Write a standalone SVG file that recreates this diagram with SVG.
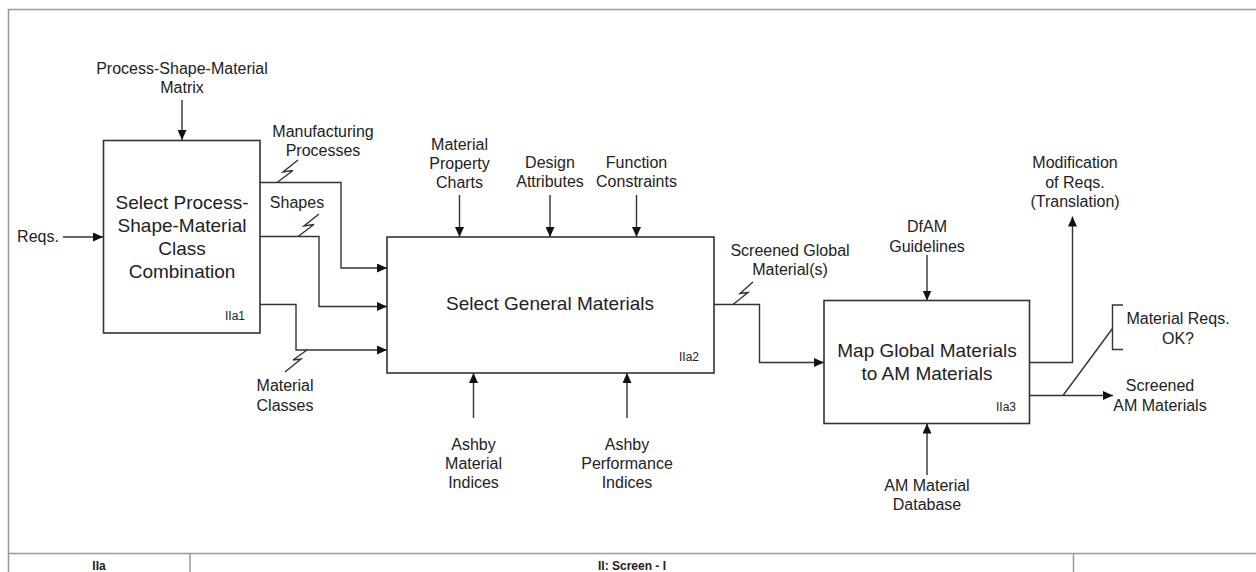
<svg xmlns="http://www.w3.org/2000/svg" width="1256" height="572" viewBox="0 0 1256 572">
<style>
  .frame{fill:none;stroke:#999;stroke-width:1.5}
  .box{fill:#fff;stroke:#333;stroke-width:1.6}
  .ln{fill:none;stroke:#333;stroke-width:1.4}
  .arr{marker-end:url(#ah)}
  .lbl{font-family:"Liberation Sans",Arial,sans-serif;font-size:16px;fill:#222;text-anchor:middle}
  .ttl{font-family:"Liberation Sans",Arial,sans-serif;font-size:19px;fill:#222;text-anchor:middle}
  .id{font-family:"Liberation Sans",Arial,sans-serif;font-size:12px;fill:#222;text-anchor:middle}
  .ft{font-family:"Liberation Sans",Arial,sans-serif;font-size:12px;font-weight:bold;fill:#222;text-anchor:middle}
</style>
<defs>
  <marker id="ah" markerUnits="userSpaceOnUse" markerWidth="10" markerHeight="9" refX="10" refY="4.5" orient="auto">
    <path d="M0,0 L10,4.5 L0,9 Z" fill="#111"/>
  </marker>
</defs>
<rect width="1256" height="572" fill="#fff"/>
<g id="frame">
  <path class="frame" d="M1256,9.5 H8.5 V572"/>
  <path class="frame" d="M8.5,553.5 H1256 M190,553.5 V572 M1073.5,553.5 V572"/>
  <text class="ft" x="99" y="570">IIa</text>
  <text class="ft" x="632" y="570">II: Screen - I</text>
</g>
<g id="connectors">
  <!-- inputs to box 1 -->
  <path class="ln arr" d="M182,100 V140"/>
  <path class="ln arr" d="M63,237 H103"/>
  <!-- box1 to box2 -->
  <path class="ln arr" d="M260,182.5 H341 V268 H387"/>
  <path class="ln" d="M277,182.5 L293,170.5 L283,172 L298,160"/>
  <path class="ln arr" d="M260,236.5 H319 V306.5 H387"/>
  <path class="ln" d="M298,236.5 L314,224.5 L304,226 L319,214"/>
  <path class="ln arr" d="M260,304.5 H296 V350 H387"/>
  <path class="ln" d="M307,350 L293,360 L301,359 L285,372"/>
  <!-- controls box2 -->
  <path class="ln arr" d="M459.5,195 V237"/>
  <path class="ln arr" d="M550,195 V237"/>
  <path class="ln arr" d="M636.5,195 V237"/>
  <path class="ln arr" d="M473.5,418 V373"/>
  <path class="ln arr" d="M627,418 V373"/>
  <!-- box2 to box3 -->
  <path class="ln arr" d="M714,304.5 H759.5 V362.5 H824"/>
  <path class="ln" d="M733,304.5 L748,292.5 L740,293.5 L753,282"/>
  <!-- box3 controls -->
  <path class="ln arr" d="M927,255 V300.5"/>
  <path class="ln arr" d="M927,475 V423.5"/>
  <!-- box3 outputs -->
  <path class="ln arr" d="M1029.5,362.5 H1072.5 V216.5"/>
  <path class="ln arr" d="M1029.5,395.5 H1113"/>
  <path class="ln" d="M1063,395.5 L1112.5,328.5"/>
  <path class="ln" d="M1123,305 H1112.5 V349.5 H1123"/>
</g>
<g id="labels">
  <text class="lbl" x="182" y="73.5">Process-Shape-Material</text>
  <text class="lbl" x="182" y="92.5">Matrix</text>
  <text class="lbl" x="38" y="242">Reqs.</text>
  <text class="lbl" x="323" y="137">Manufacturing</text>
  <text class="lbl" x="323" y="156">Processes</text>
  <text class="lbl" x="297" y="207.5">Shapes</text>
  <text class="lbl" x="285" y="391">Material</text>
  <text class="lbl" x="285" y="410.5">Classes</text>
  <text class="lbl" x="459.5" y="149.5">Material</text>
  <text class="lbl" x="459.5" y="169">Property</text>
  <text class="lbl" x="459.5" y="188">Charts</text>
  <text class="lbl" x="550" y="168">Design</text>
  <text class="lbl" x="550" y="186.5">Attributes</text>
  <text class="lbl" x="636.5" y="168">Function</text>
  <text class="lbl" x="636.5" y="186.5">Constraints</text>
  <text class="lbl" x="473.5" y="449.5">Ashby</text>
  <text class="lbl" x="473.5" y="468.5">Material</text>
  <text class="lbl" x="473.5" y="487.5">Indices</text>
  <text class="lbl" x="627" y="449.5">Ashby</text>
  <text class="lbl" x="627" y="468.5">Performance</text>
  <text class="lbl" x="627" y="487.5">Indices</text>
  <text class="lbl" x="790" y="255.5">Screened Global</text>
  <text class="lbl" x="790" y="275">Material(s)</text>
  <text class="lbl" x="927" y="232">DfAM</text>
  <text class="lbl" x="927" y="251.5">Guidelines</text>
  <text class="lbl" x="927" y="490.5">AM Material</text>
  <text class="lbl" x="927" y="510">Database</text>
  <text class="lbl" x="1075" y="168">Modification</text>
  <text class="lbl" x="1075" y="187.5">of Reqs.</text>
  <text class="lbl" x="1075" y="206.5">(Translation)</text>
  <text class="lbl" x="1178" y="324">Material Reqs.</text>
  <text class="lbl" x="1178" y="344">OK?</text>
  <text class="lbl" x="1160" y="391">Screened</text>
  <text class="lbl" x="1160" y="410.5">AM Materials</text>
</g>
<g id="node-IIa1">
  <rect class="box" x="103.5" y="140.5" width="156.5" height="192.5"/>
  <text class="ttl" x="182" y="208.5">Select Process-</text>
  <text class="ttl" x="182" y="231.5">Shape-Material</text>
  <text class="ttl" x="182" y="254.5">Class</text>
  <text class="ttl" x="182" y="277.5">Combination</text>
  <text class="id" x="235" y="319.5">IIa1</text>
</g>
<g id="node-IIa2">
  <rect class="box" x="387" y="237" width="327" height="136"/>
  <text class="ttl" x="550" y="310">Select General Materials</text>
  <text class="id" x="689" y="361">IIa2</text>
</g>
<g id="node-IIa3">
  <rect class="box" x="824" y="300.5" width="205.5" height="123"/>
  <text class="ttl" x="927" y="357">Map Global Materials</text>
  <text class="ttl" x="927" y="379.5">to AM Materials</text>
  <text class="id" x="1006" y="411">IIa3</text>
</g>
</svg>
